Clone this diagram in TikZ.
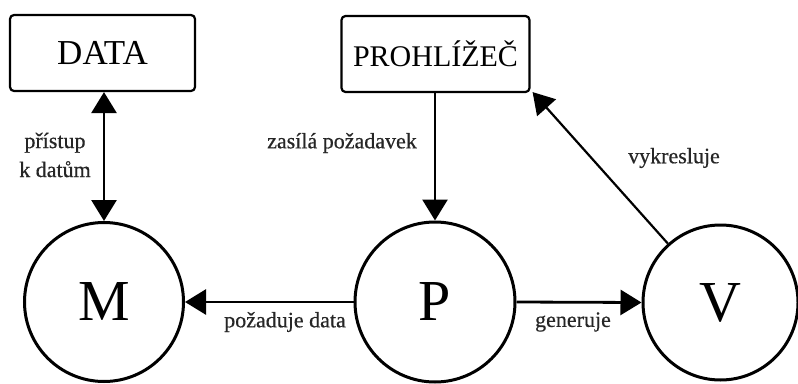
\documentclass[tikz,border=0pt]{standalone}
\usepackage{fontspec}
\setmainfont{Liberation Serif}
\newfontfamily\lblfont[FakeBold=0.5]{Liberation Serif}
\usetikzlibrary{arrows.meta}
\begin{document}
\begin{tikzpicture}[x=1pt,y=-1pt,
  boxnode/.style={draw,line width=2.2pt,rounded corners=4pt,inner sep=0pt},
  circnode/.style={draw,circle,line width=3pt,inner sep=0pt,font=\fontsize{58}{58}\selectfont},
  conn/.style={line width=2.8pt,-{Triangle[length=21pt,width=25pt]}},
  lbl/.style={text=black!85,font=\lblfont\fontsize{22}{29}\selectfont,inner sep=0pt}
]
\useasboundingbox (0,0) rectangle (798,383);
\node[boxnode,minimum width=185pt,minimum height=76pt,font=\fontsize{35}{35}\selectfont] (data) at (102.5,53) {DATA};
\node[boxnode,minimum width=188pt,minimum height=76pt,font=\fontsize{30}{30}\selectfont] (prohl) at (435.5,54) {PROHLÍŽEČ};
\node[circnode,minimum size=159pt] (M) at (104,302) {M};
\node[circnode,minimum size=160pt] (P) at (435,302) {P};
\node[circnode,minimum size=155pt] (V) at (720.5,302.5) {V};
\draw[conn,{Triangle[length=21pt,width=25pt]}-{Triangle[length=21pt,width=25pt]}] (data.south -| M.north) -- (M.north);
\draw[conn] (prohl.south -| P.north) -- (P.north);
\draw[conn] (P.west) -- (M.east);
\draw[conn] (P.east) -- (V.west);
\coordinate (pcorner) at ([shift={(2pt,1pt)}]prohl.south east);
\draw[conn,line width=2.2pt] (V) -- (pcorner);
\node[lbl,align=center] (l1) at (55,155) {přístup\\k datům};
\node[lbl] (l2) at (342,143) {zasílá požadavek};
\node[lbl] (l3) at (674,158) {vykresluje};
\node[lbl] (l4) at (285,322) {požaduje data};
\node[lbl] (l5) at (573,322) {generuje};
\end{tikzpicture}
\end{document}
